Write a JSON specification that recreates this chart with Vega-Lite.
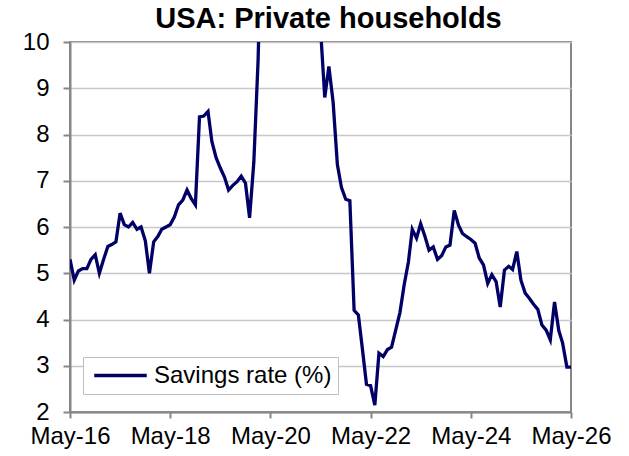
{
  "$schema": "https://vega.github.io/schema/vega-lite/v6.json",
  "width": 501,
  "height": 370,
  "autosize": {"type": "none"},
  "padding": {"left": 70, "top": 42, "right": 58, "bottom": 44},
  "background": "white",
  "title": {"text": "USA: Private households", "fontSize": 29, "font": "Liberation Sans", "fontWeight": "bold", "color": "black", "anchor": "middle", "offset": -4, "dx": 8},
  "config": {"view": {"stroke": "#868686", "strokeWidth": 2}, "font": "Liberation Sans"},
  "data": {"values": [
    {"date": "2016-05-01", "rate": 5.3}, {"date": "2016-06-01", "rate": 4.85}, {"date": "2016-07-01", "rate": 5.05}, {"date": "2016-08-01", "rate": 5.1}, {"date": "2016-09-01", "rate": 5.1}, {"date": "2016-10-01", "rate": 5.3}, {"date": "2016-11-01", "rate": 5.4}, {"date": "2016-12-01", "rate": 5.0},
    {"date": "2017-01-01", "rate": 5.3}, {"date": "2017-02-01", "rate": 5.58}, {"date": "2017-03-01", "rate": 5.62}, {"date": "2017-04-01", "rate": 5.68}, {"date": "2017-05-01", "rate": 6.3}, {"date": "2017-06-01", "rate": 6.05}, {"date": "2017-07-01", "rate": 6.0}, {"date": "2017-08-01", "rate": 6.1}, {"date": "2017-09-01", "rate": 5.95}, {"date": "2017-10-01", "rate": 6.0}, {"date": "2017-11-01", "rate": 5.7}, {"date": "2017-12-01", "rate": 5.0},
    {"date": "2018-01-01", "rate": 5.68}, {"date": "2018-02-01", "rate": 5.8}, {"date": "2018-03-01", "rate": 5.95}, {"date": "2018-04-01", "rate": 6.0}, {"date": "2018-05-01", "rate": 6.05}, {"date": "2018-06-01", "rate": 6.22}, {"date": "2018-07-01", "rate": 6.48}, {"date": "2018-08-01", "rate": 6.58}, {"date": "2018-09-01", "rate": 6.8}, {"date": "2018-10-01", "rate": 6.62}, {"date": "2018-11-01", "rate": 6.48}, {"date": "2018-12-01", "rate": 8.38},
    {"date": "2019-01-01", "rate": 8.4}, {"date": "2019-02-01", "rate": 8.5}, {"date": "2019-03-01", "rate": 7.85}, {"date": "2019-04-01", "rate": 7.5}, {"date": "2019-05-01", "rate": 7.28}, {"date": "2019-06-01", "rate": 7.08}, {"date": "2019-07-01", "rate": 6.8}, {"date": "2019-08-01", "rate": 6.9}, {"date": "2019-09-01", "rate": 6.98}, {"date": "2019-10-01", "rate": 7.1}, {"date": "2019-11-01", "rate": 6.95}, {"date": "2019-12-01", "rate": 6.2},
    {"date": "2020-01-01", "rate": 7.4}, {"date": "2020-02-01", "rate": 9.6}, {"date": "2020-03-01", "rate": 13.0}, {"date": "2020-04-01", "rate": 33.0}, {"date": "2020-05-01", "rate": 25.0}, {"date": "2020-06-01", "rate": 19.5}, {"date": "2020-07-01", "rate": 17.5}, {"date": "2020-08-01", "rate": 15.0}, {"date": "2020-09-01", "rate": 14.0}, {"date": "2020-10-01", "rate": 13.5}, {"date": "2020-11-01", "rate": 13.0}, {"date": "2020-12-01", "rate": 13.5},
    {"date": "2021-01-01", "rate": 19.5}, {"date": "2021-02-01", "rate": 14.0}, {"date": "2021-03-01", "rate": 26.0}, {"date": "2021-04-01", "rate": 12.8}, {"date": "2021-05-01", "rate": 10.3}, {"date": "2021-06-01", "rate": 8.8}, {"date": "2021-07-01", "rate": 9.47}, {"date": "2021-08-01", "rate": 8.7}, {"date": "2021-09-01", "rate": 7.35}, {"date": "2021-10-01", "rate": 6.85}, {"date": "2021-11-01", "rate": 6.6}, {"date": "2021-12-01", "rate": 6.57},
    {"date": "2022-01-01", "rate": 4.2}, {"date": "2022-02-01", "rate": 4.1}, {"date": "2022-03-01", "rate": 3.4}, {"date": "2022-04-01", "rate": 2.6}, {"date": "2022-05-01", "rate": 2.57}, {"date": "2022-06-01", "rate": 2.15}, {"date": "2022-07-01", "rate": 3.27}, {"date": "2022-08-01", "rate": 3.2}, {"date": "2022-09-01", "rate": 3.35}, {"date": "2022-10-01", "rate": 3.4}, {"date": "2022-11-01", "rate": 3.78}, {"date": "2022-12-01", "rate": 4.15},
    {"date": "2023-01-01", "rate": 4.75}, {"date": "2023-02-01", "rate": 5.25}, {"date": "2023-03-01", "rate": 5.95}, {"date": "2023-04-01", "rate": 5.76}, {"date": "2023-05-01", "rate": 6.07}, {"date": "2023-06-01", "rate": 5.8}, {"date": "2023-07-01", "rate": 5.5}, {"date": "2023-08-01", "rate": 5.57}, {"date": "2023-09-01", "rate": 5.3}, {"date": "2023-10-01", "rate": 5.38}, {"date": "2023-11-01", "rate": 5.57}, {"date": "2023-12-01", "rate": 5.61},
    {"date": "2024-01-01", "rate": 6.36}, {"date": "2024-02-01", "rate": 6.04}, {"date": "2024-03-01", "rate": 5.86}, {"date": "2024-04-01", "rate": 5.79}, {"date": "2024-05-01", "rate": 5.73}, {"date": "2024-06-01", "rate": 5.65}, {"date": "2024-07-01", "rate": 5.33}, {"date": "2024-08-01", "rate": 5.18}, {"date": "2024-09-01", "rate": 4.78}, {"date": "2024-10-01", "rate": 4.97}, {"date": "2024-11-01", "rate": 4.82}, {"date": "2024-12-01", "rate": 4.27},
    {"date": "2025-01-01", "rate": 5.07}, {"date": "2025-02-01", "rate": 5.15}, {"date": "2025-03-01", "rate": 5.08}, {"date": "2025-04-01", "rate": 5.47}, {"date": "2025-05-01", "rate": 4.85}, {"date": "2025-06-01", "rate": 4.57}, {"date": "2025-07-01", "rate": 4.46}, {"date": "2025-08-01", "rate": 4.33}, {"date": "2025-09-01", "rate": 4.22}, {"date": "2025-10-01", "rate": 3.88}, {"date": "2025-11-01", "rate": 3.77}, {"date": "2025-12-01", "rate": 3.56},
    {"date": "2026-01-01", "rate": 4.38}, {"date": "2026-02-01", "rate": 3.76}, {"date": "2026-03-01", "rate": 3.49}, {"date": "2026-04-01", "rate": 2.97}, {"date": "2026-05-01", "rate": 2.97}
  ]},
  "mark": {"type": "line", "clip": true, "strokeWidth": 3.3},
  "encoding": {
    "x": {
      "field": "date", "type": "temporal",
      "scale": {"type": "utc", "domain": [{"year": 2016, "month": 5, "date": 1, "utc": true}, {"year": 2026, "month": 5, "date": 1, "utc": true}]},
      "axis": {
        "values": [
          {"year": 2016, "month": 5, "date": 1, "utc": true},
          {"year": 2018, "month": 5, "date": 1, "utc": true},
          {"year": 2020, "month": 5, "date": 1, "utc": true},
          {"year": 2022, "month": 5, "date": 1, "utc": true},
          {"year": 2024, "month": 5, "date": 1, "utc": true},
          {"year": 2026, "month": 5, "date": 1, "utc": true}
        ],
        "format": "%b-%y", "title": null, "grid": false,
        "domainColor": "#868686", "domainWidth": 2, "tickColor": "#868686", "tickWidth": 2, "tickSize": 6,
        "labelFontSize": 24, "labelColor": "black", "labelPadding": 6, "labelFlush": false, "labelOverlap": false
      }
    },
    "y": {
      "field": "rate", "type": "quantitative",
      "scale": {"domain": [2, 10], "nice": false, "zero": false},
      "axis": {
        "values": [2, 3, 4, 5, 6, 7, 8, 9, 10], "title": null,
        "gridColor": "#c8c8c8", "gridWidth": 1.5,
        "domainColor": "#868686", "domainWidth": 2, "tickColor": "#868686", "tickWidth": 2, "tickSize": 7,
        "labelFontSize": 24, "labelPadding": 14, "labelColor": "black"
      }
    },
    "color": {
      "datum": "Savings rate (%)", "type": "nominal",
      "scale": {"range": ["#000066"]},
      "legend": {
        "title": null, "orient": "none", "legendX": 13, "legendY": 315,
        "fillColor": "white", "strokeColor": "#bfbfbf", "padding": 6,
        "symbolType": "M-2.5,0L2.5,0", "symbolSize": 441, "symbolStrokeWidth": 3.3, "symbolOffset": 19,
        "labelFontSize": 24, "labelColor": "black", "labelOffset": 21, "labelLimit": 400
      }
    }
  }
}
